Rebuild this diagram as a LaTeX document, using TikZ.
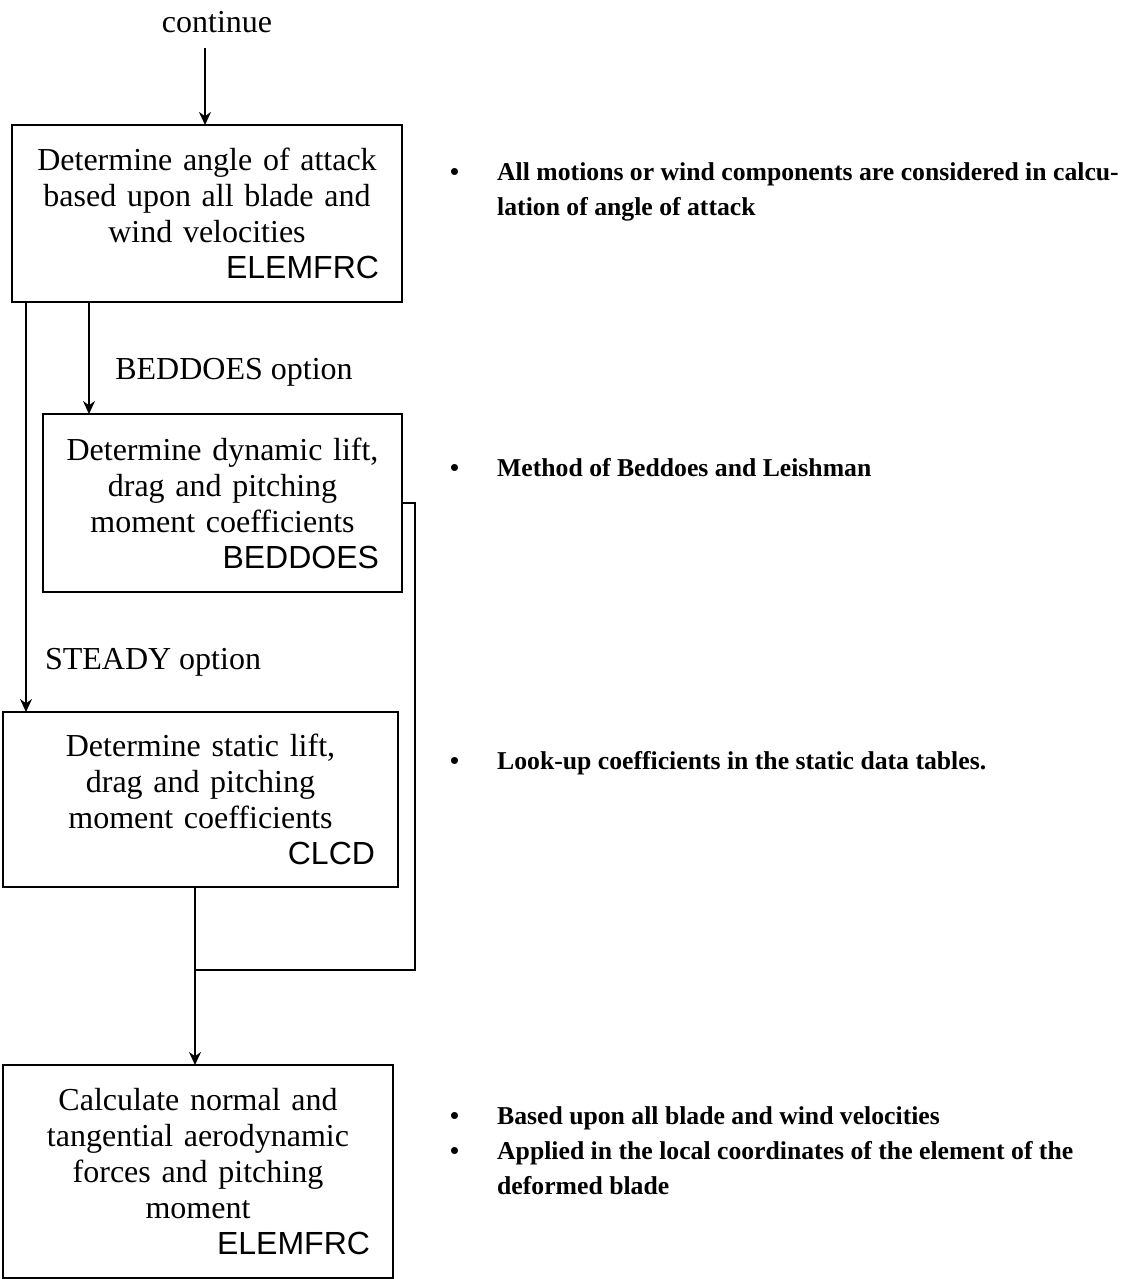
\documentclass[tikz,border=0pt]{standalone}
\usepackage{fontspec}
\setmainfont{Liberation Serif}
\newfontfamily\routinefont{Liberation Sans}
\usepackage{tikz}
\usetikzlibrary{arrows.meta,positioning,calc}

% routine name, set flush right on the last line of a box
\newcommand{\routine}[1]{\\\hspace*{\fill}{\routinefont #1}}
% bulleted remarks, baseline on the first row
\newcommand{\remarks}[1]{\begin{tabular}[t]{@{}p{47pt}@{}l@{}}#1\end{tabular}}

\begin{document}
\begin{tikzpicture}[x=1pt, y=-1pt,
  box/.style={draw, line width=2.7pt, outer sep=0pt, inner xsep=23pt, inner ysep=0pt, align=center, font=\fontsize{32}{36}\selectfont},
  arrow/.style={-{Stealth[length=13pt, width=12pt]}, line width=2pt},
  link/.style={line width=2pt},
  lbl/.style={inner sep=0pt, font=\fontsize{32}{36}\selectfont},
  note/.style={anchor=base west, inner sep=0pt, font=\fontsize{25.7}{35}\selectfont\bfseries},
]

\useasboundingbox (0,0) rectangle (1126,1279);

\node[lbl] (cont) at (217,22) {continue};
\coordinate (entry) at (205,48);

\node[box, text width=344pt, minimum height=177pt, anchor=north west] (attack) at (12,125) {Determine angle of attack\\based upon all blade and\\wind velocities\routine{ELEMFRC}};
\node[box, text width=313pt, minimum height=178pt, below=112pt of attack.south east, anchor=north east] (dyn) {Determine dynamic lift,\\drag and pitching\\moment coefficients\routine{BEDDOES}};
\node[box, text width=349pt, minimum height=175pt, below=120pt of dyn.south west, anchor=north west, xshift=-40pt] (stat) {Determine static lift,\\drag and pitching\\moment coefficients\routine{CLCD}};
\node[box, text width=344pt, minimum height=213pt, below=178pt of stat.south west, anchor=north west] (calc) {Calculate normal and\\tangential aerodynamic\\forces and pitching\\moment\routine{ELEMFRC}};

\node[lbl] (beddoes) at (234,372) {BEDDOES option};
\node[lbl] (steady) at (153,662) {STEADY option};

\draw[arrow] (entry) -- (entry |- attack.north);
\draw[arrow] ([xshift=77pt]attack.south west) coordinate (b1) -- (b1 |- dyn.north);
\draw[arrow] ([xshift=14pt]attack.south west) coordinate (b2) -- (b2 |- stat.north);

\coordinate (join) at (195,970);
\draw[link] (dyn.east) -- ++(13,0) |- (join);
\draw[link] (join |- stat.south) -- (join);
\draw[arrow] (join) -- (join |- calc.north);

% remarks on the right
\node[note] (n1) at (450,180) {\remarks{\textbullet & All motions or wind components are considered in calcu-\\ & lation of angle of attack}};
\node[note] (n2) at (450,476) {\remarks{\textbullet & Method of Beddoes and Leishman}};
\node[note] (n3) at (450,769) {\remarks{\textbullet & Look-up coefficients in the static data tables.}};
\node[note] (n4) at (450,1124) {\remarks{\textbullet & Based upon all blade and wind velocities\\ \textbullet & Applied in the local coordinates of the element of the\\ & deformed blade}};

\end{tikzpicture}
\end{document}
